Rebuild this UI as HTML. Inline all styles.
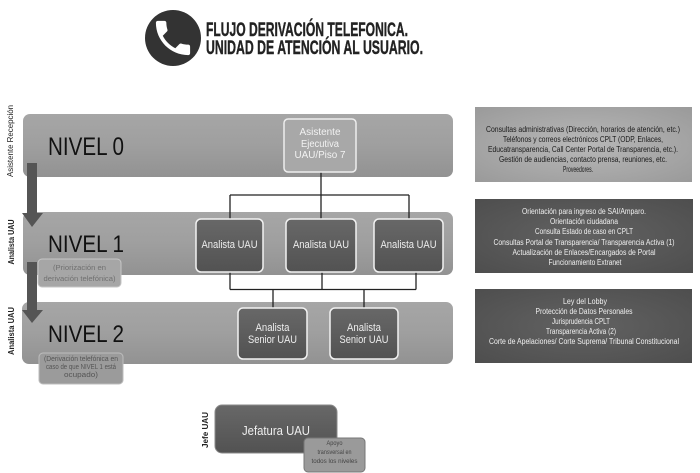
<!DOCTYPE html>
<html><head><meta charset="utf-8"><style>
html,body{margin:0;padding:0;background:#fff;}
svg{display:block;}
text{font-family:"Liberation Sans",sans-serif;}
</style></head><body>
<svg width="700" height="473" viewBox="0 0 700 473" xmlns="http://www.w3.org/2000/svg">
<defs>
<linearGradient id="band" x1="0" y1="0" x2="0" y2="1">
<stop offset="0" stop-color="#a6a6a6"/><stop offset="0.5" stop-color="#9f9f9f"/><stop offset="1" stop-color="#929292"/>
</linearGradient>
<linearGradient id="dark" x1="0" y1="0" x2="0" y2="1">
<stop offset="0" stop-color="#686868"/><stop offset="1" stop-color="#525252"/>
</linearGradient>
<radialGradient id="light" cx="0.5" cy="0.5" r="0.7">
<stop offset="0" stop-color="#b8b8b8"/><stop offset="1" stop-color="#9a9a9a"/>
</radialGradient>
<radialGradient id="darkbox" cx="0.5" cy="0.5" r="0.7">
<stop offset="0" stop-color="#626262"/><stop offset="1" stop-color="#4e4e4e"/>
</radialGradient>
</defs>

<!-- Title -->
<circle cx="173" cy="38" r="28" fill="#333"/>
<g transform="translate(150.2,15.2) scale(1.9)">
<path d="M6.62 10.79c1.44 2.83 3.76 5.14 6.590 6.59l2.2-2.2c.27-.27.67-.36 1.02-.24 1.12.37 2.33.57 3.57.57.55 0 1 .45 1 1V20c0 .55-.45 1-1 1-9.39 0-17-7.61-17-17 0-.55.45-1 1-1h3.5c.55 0 1 .45 1 1 0 1.25.2 2.450.57 3.57.11.35.03.74-.25 1.02l-2.2 2.2z" fill="#fff"/>
</g>
<text x="206" y="36" font-size="19" font-weight="bold" fill="#222" stroke="#222" stroke-width="0.4" textLength="202" lengthAdjust="spacingAndGlyphs">FLUJO DERIVACIÓN TELEFONICA.</text>
<text x="206" y="54" font-size="19" font-weight="bold" fill="#222" stroke="#222" stroke-width="0.4" textLength="217" lengthAdjust="spacingAndGlyphs">UNIDAD DE ATENCIÓN AL USUARIO.</text>

<!-- Bands -->
<rect x="23" y="114" width="430" height="63" rx="7" fill="url(#band)"/>
<rect x="23" y="212" width="430" height="63" rx="7" fill="url(#band)"/>
<rect x="22" y="302" width="431" height="62" rx="7" fill="url(#band)"/>

<!-- Connectors -->
<g stroke="#222" stroke-width="1.3" fill="none">
<line x1="321" y1="172" x2="321" y2="219"/>
<line x1="230" y1="195" x2="409" y2="195"/>
<line x1="230" y1="195" x2="230" y2="219"/>
<line x1="409" y1="195" x2="409" y2="219"/>
<line x1="230" y1="272" x2="230" y2="289.5"/>
<line x1="322" y1="272" x2="322" y2="289.5"/>
<line x1="416" y1="272" x2="416" y2="289.5"/>
<line x1="230" y1="289.5" x2="416" y2="289.5"/>
<line x1="273" y1="289.5" x2="273" y2="308"/>
<line x1="364" y1="289.5" x2="364" y2="308"/>
</g>

<!-- NIVEL labels -->
<text x="48" y="155" font-size="25" fill="#111" textLength="76" lengthAdjust="spacingAndGlyphs">NIVEL 0</text>
<text x="48" y="252" font-size="24" fill="#111" textLength="76" lengthAdjust="spacingAndGlyphs">NIVEL 1</text>
<text x="48" y="342" font-size="24" fill="#111" textLength="76" lengthAdjust="spacingAndGlyphs">NIVEL 2</text>

<!-- Asistente box -->
<rect x="284" y="119" width="72" height="53" rx="4" fill="#a8a8a8" stroke="#eeeeee" stroke-width="1.5"/>
<g font-size="10" fill="#f2f2f2" text-anchor="middle">
<text x="320" y="135" textLength="41" lengthAdjust="spacingAndGlyphs">Asistente</text>
<text x="320" y="147" textLength="38" lengthAdjust="spacingAndGlyphs">Ejecutiva</text>
<text x="320" y="158" textLength="51" lengthAdjust="spacingAndGlyphs">UAU/Piso 7</text>
</g>

<!-- Analista boxes -->
<rect x="196" y="219" width="67" height="53" rx="5" fill="url(#dark)" stroke="#f2f2f2" stroke-width="1.5"/>
<rect x="286" y="219" width="70" height="53" rx="5" fill="url(#dark)" stroke="#f2f2f2" stroke-width="1.5"/>
<rect x="374" y="219" width="69" height="53" rx="5" fill="url(#dark)" stroke="#f2f2f2" stroke-width="1.5"/>
<g font-size="11" fill="#eeeeee" text-anchor="middle">
<text x="229.5" y="248" textLength="56" lengthAdjust="spacingAndGlyphs">Analista UAU</text>
<text x="321" y="248" textLength="56" lengthAdjust="spacingAndGlyphs">Analista UAU</text>
<text x="408.5" y="248" textLength="56" lengthAdjust="spacingAndGlyphs">Analista UAU</text>
</g>

<!-- Senior boxes -->
<rect x="238" y="308" width="69" height="51" rx="5" fill="url(#dark)" stroke="#f2f2f2" stroke-width="1.5"/>
<rect x="330" y="308" width="68" height="51" rx="5" fill="url(#dark)" stroke="#f2f2f2" stroke-width="1.5"/>
<g font-size="11" fill="#eeeeee" text-anchor="middle">
<text x="272.5" y="331" textLength="34" lengthAdjust="spacingAndGlyphs">Analista</text>
<text x="272.5" y="343" textLength="49" lengthAdjust="spacingAndGlyphs">Senior UAU</text>
<text x="364" y="331" textLength="34" lengthAdjust="spacingAndGlyphs">Analista</text>
<text x="364" y="343" textLength="49" lengthAdjust="spacingAndGlyphs">Senior UAU</text>
</g>

<!-- Note boxes -->
<rect x="38" y="259" width="83" height="28" rx="4" fill="#a6a6a6" stroke="#c6c6c6" stroke-width="1"/>
<g font-size="7" fill="#707070" text-anchor="middle">
<text x="79.5" y="270" textLength="53" lengthAdjust="spacingAndGlyphs">(Priorización en</text>
<text x="79.5" y="281" textLength="72" lengthAdjust="spacingAndGlyphs">derivación telefónica)</text>
</g>
<rect x="39" y="353" width="84" height="31" rx="4" fill="#9b9b9b" stroke="#bdbdbd" stroke-width="1"/>
<g font-size="7" fill="#555" text-anchor="middle">
<text x="81" y="361" textLength="74" lengthAdjust="spacingAndGlyphs">(Derivación telefónica en</text>
<text x="81" y="369" textLength="70" lengthAdjust="spacingAndGlyphs">caso de que NIVEL 1 está</text>
<text x="81" y="377" textLength="34" lengthAdjust="spacingAndGlyphs">ocupado)</text>
</g>

<!-- Left arrows -->
<path d="M27 163 H37 V213 H43 L32 227 L22 213 H27 Z" fill="#555"/>
<path d="M27 262 H37 V310 H43 L32 323 L22 310 H27 Z" fill="#555"/>

<!-- Vertical labels -->
<g font-size="8" fill="#222" text-anchor="middle">
<text transform="translate(13,141) rotate(-90)" textLength="72" lengthAdjust="spacingAndGlyphs">Asistente Recepción</text>
<text transform="translate(14,242) rotate(-90)" font-weight="bold" textLength="45" lengthAdjust="spacingAndGlyphs">Analista UAU</text>
<text transform="translate(14,331) rotate(-90)" font-weight="bold" textLength="48" lengthAdjust="spacingAndGlyphs">Analista UAU</text>
<text transform="translate(208,430) rotate(-90)" font-weight="bold" textLength="36" lengthAdjust="spacingAndGlyphs">Jefe UAU</text>
</g>

<!-- Jefatura -->
<rect x="215" y="405" width="122" height="48" rx="7" fill="url(#dark)" stroke="#8a8a8a" stroke-width="1"/>
<text x="276" y="435" font-size="13" fill="#eeeeee" text-anchor="middle" textLength="68" lengthAdjust="spacingAndGlyphs">Jefatura UAU</text>
<rect x="304" y="438" width="61" height="34" rx="4" fill="#9a9a9a" stroke="#777" stroke-width="1"/>
<g font-size="6" fill="#444" text-anchor="middle">
<text x="334.5" y="445" textLength="16" lengthAdjust="spacingAndGlyphs">Apoyo</text>
<text x="334.5" y="454" textLength="34" lengthAdjust="spacingAndGlyphs">transversal en</text>
<text x="334.5" y="463" textLength="46" lengthAdjust="spacingAndGlyphs">todos los niveles</text>
</g>

<!-- Right boxes -->
<rect x="475" y="107" width="217" height="75" fill="url(#light)"/>
<g font-size="8" fill="#1a1a1a" text-anchor="middle">
<text x="583" y="132" textLength="194" lengthAdjust="spacingAndGlyphs">Consultas administrativas (Dirección, horarios de atención, etc.)</text>
<text x="583" y="142" textLength="160" lengthAdjust="spacingAndGlyphs">Teléfonos y correos electrónicos CPLT (ODP, Enlaces,</text>
<text x="583" y="152" textLength="190" lengthAdjust="spacingAndGlyphs">Educatransparencia, Call Center Portal de Transparencia, etc.).</text>
<text x="583" y="162" textLength="168" lengthAdjust="spacingAndGlyphs">Gestión de audiencias, contacto prensa, reuniones, etc.</text>
<text x="578" y="172" textLength="30" lengthAdjust="spacingAndGlyphs">Proveedores.</text>
</g>

<rect x="475" y="199" width="218" height="74" fill="url(#darkbox)"/>
<g font-size="8" fill="#f0f0f0" text-anchor="middle">
<text x="584" y="214" textLength="124" lengthAdjust="spacingAndGlyphs">Orientación para ingreso de SAI/Amparo.</text>
<text x="584" y="224" textLength="68" lengthAdjust="spacingAndGlyphs">Orientación ciudadana</text>
<text x="584" y="234" textLength="98" lengthAdjust="spacingAndGlyphs">Consulta Estado de caso en CPLT</text>
<text x="584" y="245" textLength="181" lengthAdjust="spacingAndGlyphs">Consultas Portal de Transparencia/ Transparencia Activa (1)</text>
<text x="584" y="255" textLength="143" lengthAdjust="spacingAndGlyphs">Actualización de Enlaces/Encargados de Portal</text>
<text x="585" y="265" textLength="73" lengthAdjust="spacingAndGlyphs">Funcionamiento Extranet</text>
</g>

<rect x="475" y="289" width="217" height="74" fill="url(#darkbox)"/>
<g font-size="8" fill="#f0f0f0" text-anchor="middle">
<text x="585" y="304" textLength="44" lengthAdjust="spacingAndGlyphs">Ley del Lobby</text>
<text x="584" y="314" textLength="97" lengthAdjust="spacingAndGlyphs">Protección de Datos Personales</text>
<text x="581" y="324" textLength="58" lengthAdjust="spacingAndGlyphs">Jurisprudencia CPLT</text>
<text x="581" y="334" textLength="70" lengthAdjust="spacingAndGlyphs">Transparencia Activa (2)</text>
<text x="584" y="344" textLength="190" lengthAdjust="spacingAndGlyphs">Corte de Apelaciones/ Corte Suprema/ Tribunal Constitucional</text>
</g>
</svg>
</body></html>
